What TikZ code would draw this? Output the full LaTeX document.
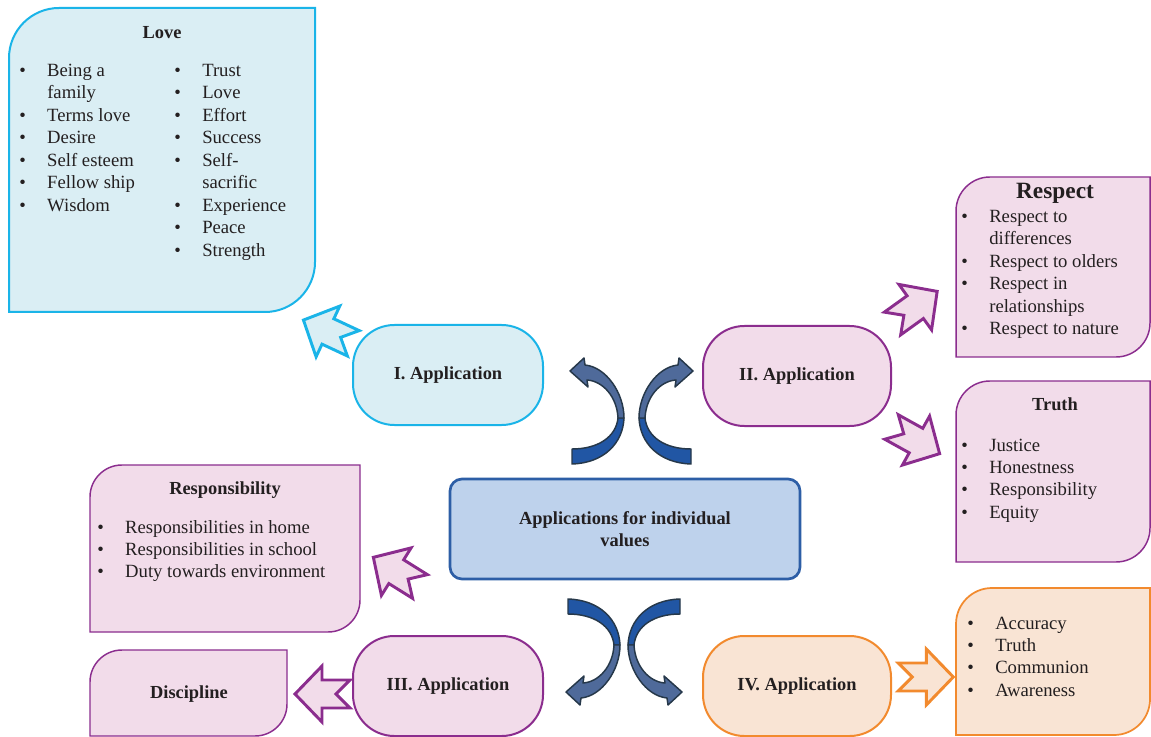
\documentclass[tikz,border=0pt]{standalone}
\usepackage{fontspec}
\setmainfont{Liberation Serif}
\definecolor{cyanB}{HTML}{1AB4E8}
\definecolor{cyanF}{HTML}{DAEEF4}
\definecolor{pinkF}{HTML}{F2DCEA}
\definecolor{purB}{HTML}{8B2D8E}
\definecolor{oraB}{HTML}{F28A2E}
\definecolor{oraF}{HTML}{F9E4D4}
\definecolor{cenF}{HTML}{BED2EC}
\definecolor{cenB}{HTML}{2D5EA6}
\definecolor{darkblue}{HTML}{2156A4}
\definecolor{greyblue}{HTML}{4F6A9A}
\definecolor{edgec}{HTML}{26384A}
\definecolor{txt}{HTML}{231F20}
\newcommand\cornerbox[6]{%
  \draw[#6] (#1,#2+#5) .. controls (#1,#2+0.448*#5) and (#1+0.448*#5,#2) .. (#1+#5,#2)
    -- (#3,#2) -- (#3,#4-#5) .. controls (#3,#4-0.448*#5) and (#3-0.448*#5,#4) .. (#3-#5,#4)
    -- (#1,#4) -- cycle;}
\newcommand\blist[1]{\begin{tabular}[t]{@{}p{21pt}@{}l@{}}#1\end{tabular}}
\begin{document}
\begin{tikzpicture}[x=0.75pt,y=-0.75pt,
  title/.style={inner sep=0, text=txt, font=\fontsize{13.8}{16}\selectfont\bfseries},
  listtxt/.style={anchor=base west, inner sep=0, text=txt, font=\fontsize{14}{16.85}\selectfont},
  app/.style={line width=1.5pt, rounded corners=31pt, minimum width=142.5pt, minimum height=75pt,
    inner sep=0, text=txt, font=\fontsize{13.8}{16}\selectfont\bfseries},
  cyanbox/.style={draw=cyanB, fill=cyanF, line width=1.5pt},
  pinkbox/.style={draw=purB, fill=pinkF, line width=1.1pt},
  orabox/.style={draw=oraB, fill=oraF, line width=1.3pt},
  blockarrow/.pic={\path[pic actions] (0,-14) -- (28,-14) -- (28,-28) -- (55,0) -- (28,28) -- (28,14) -- (0,14) -- (14,0) -- cycle;},
  curvarrow/.pic={
    \draw[edgec, line width=1.1pt, line join=round, fill=darkblue]
      (-50,46) .. controls (-18,45) and (1,25) .. (2,0) -- (-4,0)
      .. controls (-6,19) and (-24,31) .. (-50,31) -- cycle;
    \draw[edgec, line width=1.1pt, line join=round, fill=greyblue]
      (2,0) .. controls (2,-25) and (-16,-51) .. (-37,-53) -- (-38,-60) -- (-52,-47)
      -- (-34,-31) -- (-35,-38) .. controls (-19,-37) and (-5,-21) .. (-4,0) -- cycle;}
]
\useasboundingbox (0,0) rectangle (1151,737);
\clip (0,0) rectangle (1151,737);
\fill[white] (0,0) rectangle (1151,737);

% Love box
\cornerbox{9}{8}{315}{312}{50}{cyanbox}
\node[title] (lovet) at (162,33) {Love};
\node[listtxt] (love1) at (19,76.5) {\blist{\textbullet & Being a\\ & family\\ \textbullet & Terms love\\ \textbullet & Desire\\ \textbullet & Self esteem\\ \textbullet & Fellow ship\\ \textbullet & Wisdom}};
\node[listtxt] (love2) at (174,76.5) {\blist{\textbullet & Trust\\ \textbullet & Love\\ \textbullet & Effort\\ \textbullet & Success\\ \textbullet & Self-\\ & sacrific\\ \textbullet & Experience\\ \textbullet & Peace\\ \textbullet & Strength}};

% Respect box
\cornerbox{956}{177}{1150}{357}{34}{pinkbox}
\node[title, font=\fontsize{17.5}{20}\selectfont\bfseries] (respt) at (1055,193) {Respect};
\node[listtxt] (resp) at (961,222.5) {\blist{\textbullet & Respect to\\ & differences\\ \textbullet & Respect to olders\\ \textbullet & Respect in\\ & relationships\\ \textbullet & Respect to nature}};

% Truth box
\cornerbox{956}{381}{1150}{562}{34}{pinkbox}
\node[title] (trutht) at (1055,404) {Truth};
\node[listtxt] (truth) at (961,451) {\blist{\textbullet & Justice\\ \textbullet & Honestness\\ \textbullet & Responsibility\\ \textbullet & Equity}};

% Orange box
\cornerbox{956}{588}{1150}{735}{36}{orabox}
\node[listtxt] (ora) at (967,629) {\blist{\textbullet & Accuracy\\ \textbullet & Truth\\ \textbullet & Communion\\ \textbullet & Awareness}};

% Responsibility box
\cornerbox{90}{465}{360}{632}{32}{pinkbox}
\node[title] (respot) at (225,490) {Responsibility};
\node[listtxt] (respo) at (97,533) {\blist{\textbullet & Responsibilities in home\\ \textbullet & Responsibilities in school\\ \textbullet & Duty towards environment}};

% Discipline box
\cornerbox{90}{650}{287}{736}{32}{pinkbox}
\node[title] (disc) at (189,694.5) {Discipline};

% Application nodes
\node[app, draw=cyanB, fill=cyanF] (app1) at (448,375) {I. Application};
\node[app, draw=purB, fill=pinkF, minimum width=141pt] (app2) at (797,376) {II. Application};
\node[app, draw=purB, fill=pinkF] (app3) at (448,686) {III. Application};
\node[app, draw=oraB, fill=oraF, minimum width=141pt] (app4) at (797,686) {IV. Application};

% Center
\node[draw=cenB, fill=cenF, line width=2pt, rounded corners=9pt, minimum width=262.5pt, minimum height=75pt,
  inner sep=0, text=txt, align=center, font=\fontsize{13.8}{16.5}\selectfont\bfseries] (center) at (625,529)
  {Applications for individual\\values};

% Block arrows
\pic[draw=cyanB, fill=cyanF, line width=2.2pt, rotate=155] at (353.3,343.3) {blockarrow};
\pic[draw=purB, fill=pinkF, line width=2.2pt, rotate=35.7] at (892.5,323.5) {blockarrow};
\pic[draw=purB, fill=pinkF, line width=2.2pt, rotate=-29] at (891.5,427) {blockarrow};
\pic[draw=purB, fill=pinkF, line width=2.2pt, rotate=148] at (420,586.5) {blockarrow};
\pic[draw=purB, fill=pinkF, line width=2.2pt, rotate=180] at (350,694) {blockarrow};
\pic[draw=oraB, fill=oraF, line width=2.2pt, rotate=0] at (898.3,677) {blockarrow};

% Curved arrows
\pic at (622,418) {curvarrow};
\pic[xscale=-1] at (641,418) {curvarrow};
\pic[yscale=-1] at (618,645) {curvarrow};
\pic[xscale=-1, yscale=-1] at (630,645) {curvarrow};
\end{tikzpicture}
\end{document}
